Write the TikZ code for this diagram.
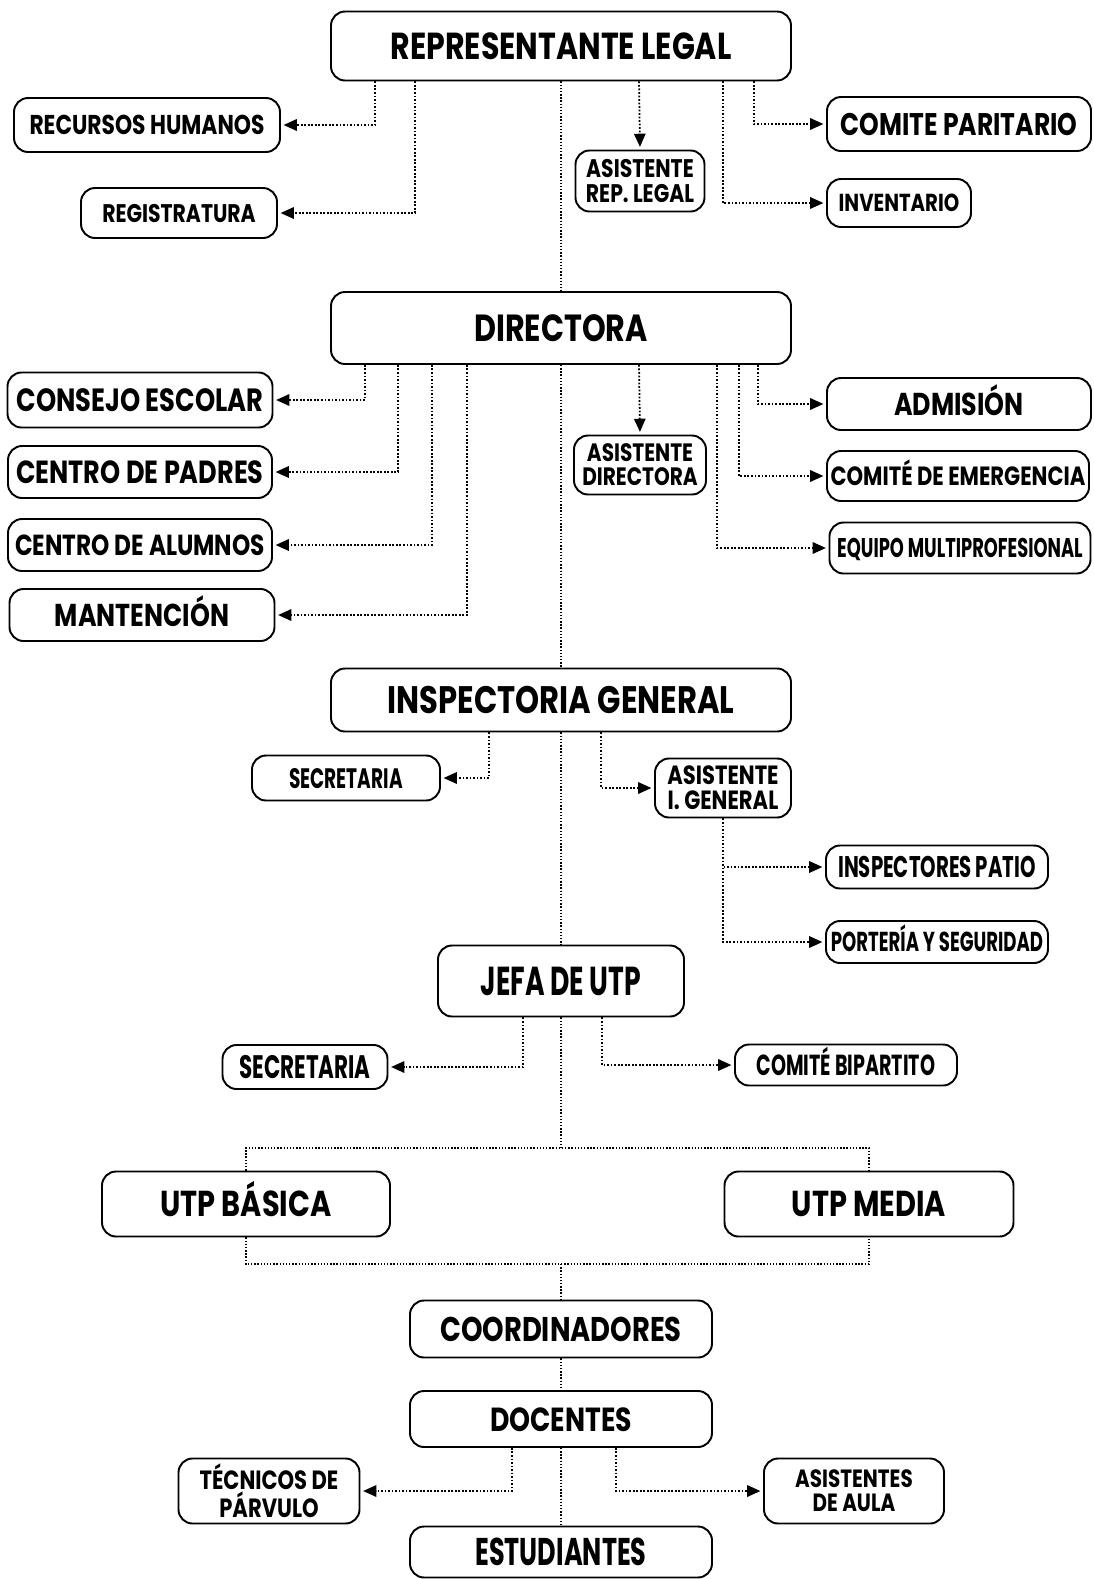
\documentclass[tikz,border=0pt]{standalone}
\usepackage{fontspec}
\newfontfamily\orgfont[FakeStretch=0.8]{Poppins}
\newfontfamily\orgcond[FakeStretch=0.66]{Poppins}
\usetikzlibrary{arrows.meta,calc}
\newcommand\fsz[1]{\fontsize{#1}{\fpeval{0.95*#1}}\selectfont}

\begin{document}
\begin{tikzpicture}[x=0.02cm,y=-0.02cm,
    txt/.style={font=\orgfont\bfseries\fsz{#1},text height=0.72*#1pt,text depth=0pt},
    ctxt/.style={font=\orgcond\bfseries\fsz{#1},text height=0.72*#1pt,text depth=0pt},
    mtxt/.style={font=\orgfont\bfseries\fsz{#1}},
    wh/.style 2 args={minimum width=#1*0.02cm,minimum height=#2*0.02cm}]
        % Styles
        \tikzstyle{box}=[draw,line width=1.1pt,rounded corners=8pt,align=center,inner sep=0pt,fill=white]
        \tikzstyle{trunk}=[densely dotted,line width=0.8pt]
        \tikzstyle{conn}=[densely dotted,line width=1pt,-{Triangle[length=7.5pt,width=6.5pt]},shorten >=1.5pt]
        \useasboundingbox (0,0) rectangle (1093,1579);
        %representante legal
        \node[box,wh={460}{69},txt=21.4] (rep) at (561,46) {REPRESENTANTE LEGAL};
        \node[box,wh={266}{54},txt=15.5] (rrhh) at (147,125) {RECURSOS HUMANOS};
        \node[box,wh={196}{50},txt=14.5] (regis) at (179,213) {REGISTRATURA};
        \node[box,wh={129}{61},mtxt=14.5] (asrep) at (640,181) {ASISTENTE\\REP. LEGAL};
        \node[box,wh={264}{54},txt=17.8] (comite) at (959,124) {COMITE PARITARIO};
        \node[box,wh={144}{48},txt=14] (inv) at (899,203) {INVENTARIO};
        %directora
        \node[box,wh={460}{72},txt=21.5] (dir) at (561,328) {DIRECTORA};
        \node[box,wh={265}{55},txt=18.3] (consejo) at (140,400) {CONSEJO ESCOLAR};
        \node[box,wh={264}{52},txt=18.2] (padres) at (140,472) {CENTRO DE PADRES};
        \node[box,wh={264}{52},txt=16.5] (alumnos) at (140,545) {CENTRO DE ALUMNOS};
        \node[box,wh={265}{52},txt=18] (mant) at (142,615) {MANTENCIÓN};
        \node[box,wh={132}{59},mtxt=14.3] (asdir) at (640,465) {ASISTENTE\\DIRECTORA};
        \node[box,wh={264}{52},txt=18] (admision) at (959,404) {ADMISIÓN};
        \node[box,wh={262}{50},txt=15] (emerg) at (958,476) {COMITÉ DE EMERGENCIA};
        \node[box,wh={261}{51},ctxt=15.4] (equipo) at (960,548) {EQUIPO MULTIPROFESIONAL};
        %inspectoria
        \node[box,wh={460}{63},txt=21.8] (insp) at (561,700) {INSPECTORIA GENERAL};
        \node[box,wh={188}{45},ctxt=16] (secig) at (346,778) {SECRETARIA};
        \node[box,wh={136}{59},mtxt=15] (asig) at (723,788) {ASISTENTE\\I. GENERAL};
        \node[box,wh={222}{43},ctxt=17] (patio) at (937,867) {INSPECTORES PATIO};
        \node[box,wh={222}{42},ctxt=15.6] (porteria) at (937,942) {PORTERÍA Y SEGURIDAD};
        %utp
        \node[box,wh={246}{71},ctxt=23] (jefa) at (561,981) {JEFA DE UTP};
        \node[box,wh={165}{44},ctxt=18.5] (secutp) at (305,1067) {SECRETARIA};
        \node[box,wh={222}{41},ctxt=16.5] (bipart) at (846,1065) {COMITÉ BIPARTITO};
        \node[box,wh={288}{65},txt=20.5] (basica) at (246,1204) {UTP BÁSICA};
        \node[box,wh={289}{65},txt=20.5] (media) at (869,1204) {UTP MEDIA};
        \node[box,wh={302}{57},txt=19.5] (coord) at (561,1329) {COORDINADORES};
        \node[box,wh={302}{56},txt=19] (docentes) at (561,1419) {DOCENTES};
        \node[box,wh={181}{65},mtxt=15] (tecnicos) at (269,1491) {TÉCNICOS DE\\PÁRVULO};
        \node[box,wh={180}{65},mtxt=14.2] (asaula) at (854,1491) {ASISTENTES\\DE AULA};
        \node[box,wh={302}{51},ctxt=22] (estud) at (561,1552) {ESTUDIANTES};
        \coordinate (utptop) at (561,1148);
        \coordinate (utpbot) at (561,1264);
        %lines
        \draw[trunk] (rep.south) -- (dir.north);
        \draw[conn] ($(rep.south west)+(45,0)$) |- (rrhh.east);
        \draw[conn] ($(rep.south west)+(85,0)$) |- (regis.east);
        \draw[conn] ($(rep.south west)+(309,0)$) -- (asrep.north);
        \draw[conn] ($(rep.south west)+(393,0)$) |- (inv.west);
        \draw[conn] ($(rep.south west)+(424,0)$) |- (comite.west);
        \draw[trunk] (dir.south) -- (insp.north);
        \draw[conn] ($(dir.south west)+(35,0)$) |- (consejo.east);
        \draw[conn] ($(dir.south west)+(68,0)$) |- (padres.east);
        \draw[conn] ($(dir.south west)+(102,0)$) |- (alumnos.east);
        \draw[conn] ($(dir.south west)+(137,0)$) |- (mant.east);
        \draw[conn] ($(dir.south west)+(309,0)$) -- (asdir.north);
        \draw[conn] ($(dir.south west)+(387,0)$) |- (equipo.west);
        \draw[conn] ($(dir.south west)+(409,0)$) |- (emerg.west);
        \draw[conn] ($(dir.south west)+(428,0)$) |- (admision.west);
        \draw[trunk] (insp.south) -- (jefa.north);
        \draw[conn] ($(insp.south west)+(159,0)$) |- (secig.east);
        \draw[conn] ($(insp.south west)+(271,0)$) |- (asig.west);
        \draw[conn] (asig.south) |- (patio.west);
        \draw[conn] (asig.south) |- (porteria.west);
        \draw[conn] ($(jefa.south west)+(86,0)$) |- (secutp.east);
        \draw[conn] ($(jefa.south west)+(165,0)$) |- (bipart.west);
        \draw[trunk] (jefa.south) -- (utptop);
        \draw[trunk] (basica.north) |- (utptop) -| (media.north);
        \draw[trunk] (basica.south) |- (utpbot) -| (media.south);
        \draw[trunk] (utpbot) -- (coord.north);
        \draw[trunk] (coord.south) -- (docentes.north);
        \draw[trunk] (docentes.south) -- (estud.north);
        \draw[conn] ($(docentes.south west)+(103,0)$) |- (tecnicos.east);
        \draw[conn] ($(docentes.south west)+(207,0)$) |- (asaula.west);
\end{tikzpicture}
\end{document}
